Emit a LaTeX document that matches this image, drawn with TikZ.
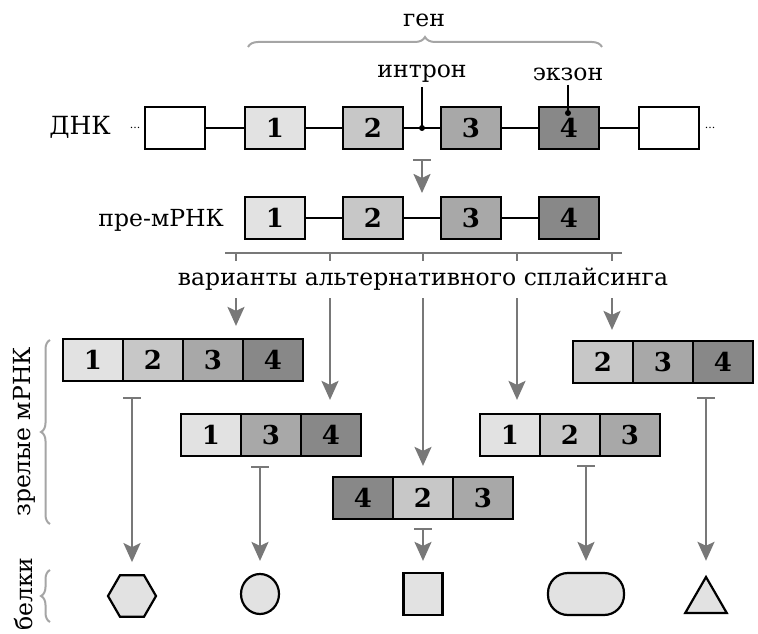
\documentclass[tikz,border=0pt]{standalone}
\usepackage{fontspec}
\setmainfont{DejaVu Serif}
\usetikzlibrary{shapes.geometric,decorations.pathreplacing,arrows.meta}
\definecolor{ca}{HTML}{E2E2E2}
\definecolor{cb}{HTML}{C7C7C7}
\definecolor{cc}{HTML}{A8A8A8}
\definecolor{cd}{HTML}{888888}
\definecolor{ag}{HTML}{787878}
\definecolor{bg}{HTML}{A5A5A5}
\definecolor{pf}{HTML}{E2E2E2}
\begin{document}
\begin{tikzpicture}[x=1pt,y=-1pt,
 lab/.style={font=\fontsize{23.5}{28}\selectfont, inner sep=0pt},
 gbox/.style={draw=black, line width=2.2pt, minimum width=60pt, minimum height=42pt, inner sep=0pt, font=\fontsize{26}{26}\selectfont\bfseries},
 link/.style={line width=2pt},
 gline/.style={draw=ag, line width=2.4pt},
 garrow/.style={draw=ag, line width=2.4pt, -{Stealth[length=19pt,width=17pt,inset=4pt]}},
 tarrow/.style={draw=ag, line width=2.4pt, {Bar[width=18pt]}-{Stealth[length=19pt,width=17pt,inset=4pt]}},
 gbrace/.style={draw=bg, line width=2pt, decorate, decoration={brace, amplitude=#1}},
 prot/.style={draw=black, line width=2.2pt, fill=pf, inner sep=0pt}
]
\useasboundingbox (0,0) rectangle (758,634);

% gene brace
\draw[gbrace=10pt] (248,47) -- (602,47);
\node[lab] (gen) at (424,20) {ген};

% DNA row
\node[lab, anchor=east, font=\fontsize{25}{28}\selectfont] (dnk) at (111,127) {ДНК};
\node[font=\fontsize{11}{11}\selectfont, inner sep=0pt] (dotl) at (135,128) {...};
\node[font=\fontsize{11}{11}\selectfont, inner sep=0pt] (dotr) at (710,128) {...};
\node[gbox, fill=white] (d0) at (175,128) {};
\node[gbox, fill=ca] (d1) at (275,128) {1};
\node[gbox, fill=cb] (d2) at (373,128) {2};
\node[gbox, fill=cc] (d3) at (471,128) {3};
\node[gbox, fill=cd] (d4) at (569,128) {4};
\node[gbox, fill=white] (d5) at (669,128) {};
\draw[link] (d0) -- (d1);
\draw[link] (d1) -- (d2);
\draw[link] (d2) -- (d3);
\draw[link] (d3) -- (d4);
\draw[link] (d4) -- (d5);

% intron / exon labels
\coordinate (ip) at (422,128);
\coordinate (ep) at (568,113);
\node[lab] (intron) at (422,74) {интрон};
\node[lab] (exon) at (568,74) {экзон};
\draw[line width=1.8pt] (intron.south) ++(0,4) -- (ip);
\draw[line width=1.8pt] (exon.south) ++(0,4) -- (ep);
\fill (ip) circle (3);
\fill (ep) circle (3);

% DNA -> pre-mRNA
\coordinate (ta) at (422,159);
\coordinate (tb) at (422,193);
\draw[tarrow] (ta) -- (tb);

% pre-mRNA
\node[lab, anchor=east] (pre) at (224,220) {пре-мРНК};
\node[gbox, fill=ca] (p1) at (275,218) {1};
\node[gbox, fill=cb] (p2) at (373,218) {2};
\node[gbox, fill=cc] (p3) at (471,218) {3};
\node[gbox, fill=cd] (p4) at (569,218) {4};
\draw[link] (p1) -- (p2);
\draw[link] (p2) -- (p3);
\draw[link] (p3) -- (p4);

% splicing bar
\draw[gline] (225,253) -- (622,253);
\foreach \xx in {236,330,423,517,612} \draw[gline] (\xx,253) -- (\xx,261);
\node[lab] (spl) at (423,279) {варианты альтернативного сплайсинга};

% mature mRNAs
\node[gbox, fill=ca] (a1) at (93,360) {1};
\node[gbox, fill=cb] (a2) at (153,360) {2};
\node[gbox, fill=cc] (a3) at (213,360) {3};
\node[gbox, fill=cd] (a4) at (273,360) {4};

\node[gbox, fill=ca] (b1) at (211,435) {1};
\node[gbox, fill=cc] (b2) at (271,435) {3};
\node[gbox, fill=cd] (b3) at (331,435) {4};

\node[gbox, fill=cd] (c1) at (363,498) {4};
\node[gbox, fill=cb] (c2) at (423,498) {2};
\node[gbox, fill=cc] (c3) at (483,498) {3};

\node[gbox, fill=ca] (e1) at (510,435) {1};
\node[gbox, fill=cb] (e2) at (570,435) {2};
\node[gbox, fill=cc] (e3) at (630,435) {3};

\node[gbox, fill=cb] (f1) at (603,362) {2};
\node[gbox, fill=cc] (f2) at (663,362) {3};
\node[gbox, fill=cd] (f3) at (723,362) {4};

% splicing arrows
\coordinate (s1) at (236,298);
\coordinate (s2) at (330,298);
\coordinate (s3) at (423,298);
\coordinate (s4) at (517,298);
\coordinate (s5) at (612,298);
\draw[garrow, shorten >=12pt] (s1) -- (s1 |- a3.north);
\draw[garrow, shorten >=13pt] (s2) -- (s2 |- b3.north);
\draw[garrow, shorten >=10pt] (s3) -- (s3 |- c2.north);
\draw[garrow, shorten >=13pt] (s4) -- (s4 |- e1.north);
\draw[garrow, shorten >=10pt] (s5) -- (s5 |- f1.north);

% proteins
\node[prot, regular polygon, regular polygon sides=6, minimum size=48pt] (hex) at (132,596) {};
\node[prot, ellipse, minimum width=38pt, minimum height=40pt] (circ) at (260,594) {};
\node[prot, rectangle, minimum width=39pt, minimum height=42pt] (sq) at (423,594) {};
\node[prot, rectangle, rounded corners=20pt, minimum width=76pt, minimum height=42pt] (stad) at (586,594) {};
\node[prot, regular polygon, regular polygon sides=3, minimum size=48pt] (tri) at (706,601) {};

% protein arrows
\coordinate (t1) at (132,397);
\coordinate (t2) at (260,466);
\coordinate (t3) at (423,528);
\coordinate (t4) at (586,465);
\coordinate (t5) at (706,397);
\draw[tarrow, shorten >=12pt] (t1) -- (hex.north);
\draw[tarrow, shorten >=12pt] (t2) -- (circ.north);
\draw[tarrow, shorten >=11pt] (t3) -- (sq.north);
\draw[tarrow, shorten >=11pt] (t4) -- (stad.north);
\draw[tarrow, shorten >=14pt] (t5) -- (tri.north);

% side labels
\draw[gbrace=9pt] (50,524) -- (50,340);
\node[lab, rotate=90] (mat) at (24,432) {зрелые мРНК};
\draw[gbrace=9pt] (50,622) -- (50,570);
\node[lab, rotate=90] (bel) at (24,594) {белки};
\end{tikzpicture}
\end{document}
